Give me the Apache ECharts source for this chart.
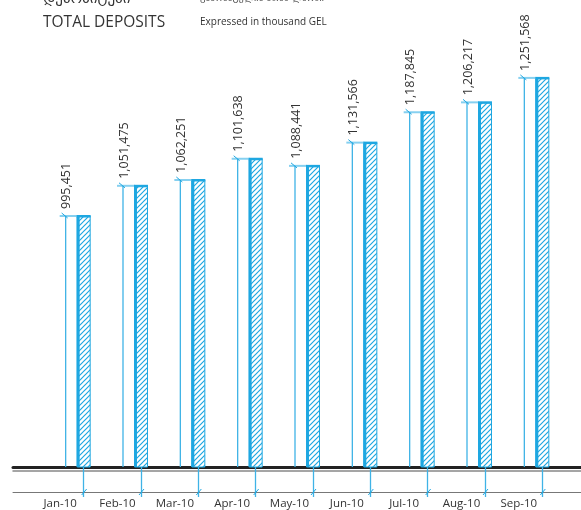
<!DOCTYPE html>
<html>
<head>
<meta charset="utf-8">
<script src="https://cdn.jsdelivr.net/npm/echarts@6/dist/echarts.min.js"></script>
<style>
html,body{margin:0;padding:0;background:#fff;}
#chart{width:581px;height:510px;}
</style>
</head>
<body>
<div id="chart"></div>
<script>
// ---- data ----
const months = ['Jan-10','Feb-10','Mar-10','Apr-10','May-10','Jun-10','Jul-10','Aug-10','Sep-10'];
const deposits = [995451, 1051475, 1062251, 1101638, 1088441, 1131566, 1187845, 1206217, 1251568];
const titleKa = 'დეპოზიტები';
const titleEn = 'TOTAL DEPOSITS';
const subtitleKa = 'გამოხატულია ათას ლარში';
const subtitleEn = 'Expressed in thousand GEL';
const yMin = 530000, yMax = 1320000;

const BLUE = '#1ea7e1';
const LIGHT = '#86d0f0';

// hatch pattern
const pc = document.createElement('canvas');
pc.width = 5; pc.height = 5;
const g = pc.getContext('2d');
g.fillStyle = '#fff'; g.fillRect(0,0,5,5);
g.strokeStyle = BLUE; g.lineWidth = 1.2;
g.beginPath();
g.moveTo(-1,6); g.lineTo(6,-1);
g.moveTo(-1,1); g.lineTo(1,-1);
g.moveTo(4,6); g.lineTo(6,4);
g.stroke();
const hatch = {image: pc, repeat: 'repeat'};

function fmt(v){ return v.toLocaleString('en-US'); }

function renderItem(params, api){
  const c = api.coord([api.value(0), api.value(1)]);
  const cx = c[0], ty = c[1];
  const by = api.coord([api.value(0), yMin])[1];
  const thinX = cx - 18;
  return {type:'group', children:[
    {type:'rect', shape:{x:cx-6.5, y:ty, width:13, height:by-ty}, style:{fill:hatch, stroke:BLUE, lineWidth:1}},
    {type:'rect', shape:{x:cx-7, y:ty, width:3, height:by-ty}, style:{fill:BLUE}},
    {type:'line', shape:{x1:cx-24, y1:ty, x2:cx-6, y2:ty}, style:{stroke:LIGHT, lineWidth:2}},
    {type:'rect', shape:{x:cx-7, y:ty-1, width:14, height:2.5}, style:{fill:BLUE}},
    {type:'line', shape:{x1:thinX, y1:ty, x2:thinX, y2:by}, style:{stroke:'#3fb3e6', lineWidth:1.3}},
    {type:'line', shape:{x1:thinX-4, y1:ty-3, x2:thinX+2, y2:ty+2}, style:{stroke:BLUE, lineWidth:1}},
    {type:'line', shape:{x1:cx-2, y1:by+28, x2:cx+3, y2:by+22}, style:{stroke:BLUE, lineWidth:1}},
    {type:'text', x:thinX+1, y:ty-7, rotation:Math.PI/2,
      style:{text:fmt(api.value(1)), align:'left', verticalAlign:'middle',
        fontSize:12.5, fontFamily:'"Open Sans"', fill:'#333'}}
  ]};
}

const chart = echarts.init(document.getElementById('chart'));
chart.setOption({
  animation:false,
  backgroundColor:'#fff',
  grid:[
    {left:55, right:10, top:41, bottom:43},
    {left:13, right:0, top:41, bottom:43}
  ],
  graphic:[
    {type:'text', left:43, top:-8, style:{text:titleKa, fontSize:15, fontFamily:'"DejaVu Sans"', fill:'#333'}},
    {type:'text', left:200, top:-6.5, style:{text:subtitleKa, fontSize:9.5, fontFamily:'"DejaVu Sans"', fill:'#444'}},
    {type:'text', left:43, top:14.5, style:{text:titleEn, fontSize:15.5, fontFamily:'"Open Sans"', fill:'#333'}},
    {type:'text', left:200, top:17, style:{text:subtitleEn, fontSize:10, fontFamily:'"Open Sans"', fill:'#333'}}
  ],
  xAxis:[
    {type:'category', gridIndex:0, data:months,
      axisLine:{show:false},
      axisTick:{show:true, alignWithLabel:true, length:30, lineStyle:{color:'#3fb3e6', width:1.3}},
      axisLabel:{margin:31, padding:[0,47,0,0], fontSize:11.5, fontFamily:'"Open Sans"', color:'#333'}},
    {type:'value', gridIndex:1, min:0, max:1, position:'bottom',
      axisLine:{show:true, lineStyle:{color:'#222', width:3}},
      axisTick:{show:false}, axisLabel:{show:false}, splitLine:{show:false}},
    {type:'value', gridIndex:1, min:0, max:1, position:'bottom', offset:3.5,
      axisLine:{show:true, lineStyle:{color:'#888', width:1.5}},
      axisTick:{show:false}, axisLabel:{show:false}, splitLine:{show:false}},
    {type:'value', gridIndex:1, min:0, max:1, position:'bottom', offset:25,
      axisLine:{show:true, lineStyle:{color:'#777', width:1}},
      axisTick:{show:false}, axisLabel:{show:false}, splitLine:{show:false}}
  ],
  yAxis:[
    {type:'value', gridIndex:0, min:yMin, max:yMax, show:false},
    {type:'value', gridIndex:1, min:0, max:1, show:false}
  ],
  series:[{
    type:'custom', xAxisIndex:0, yAxisIndex:0, clip:false,
    renderItem:renderItem,
    data:months.map((m,i)=>[i, deposits[i]])
  }]
});
</script>
</body>
</html>
